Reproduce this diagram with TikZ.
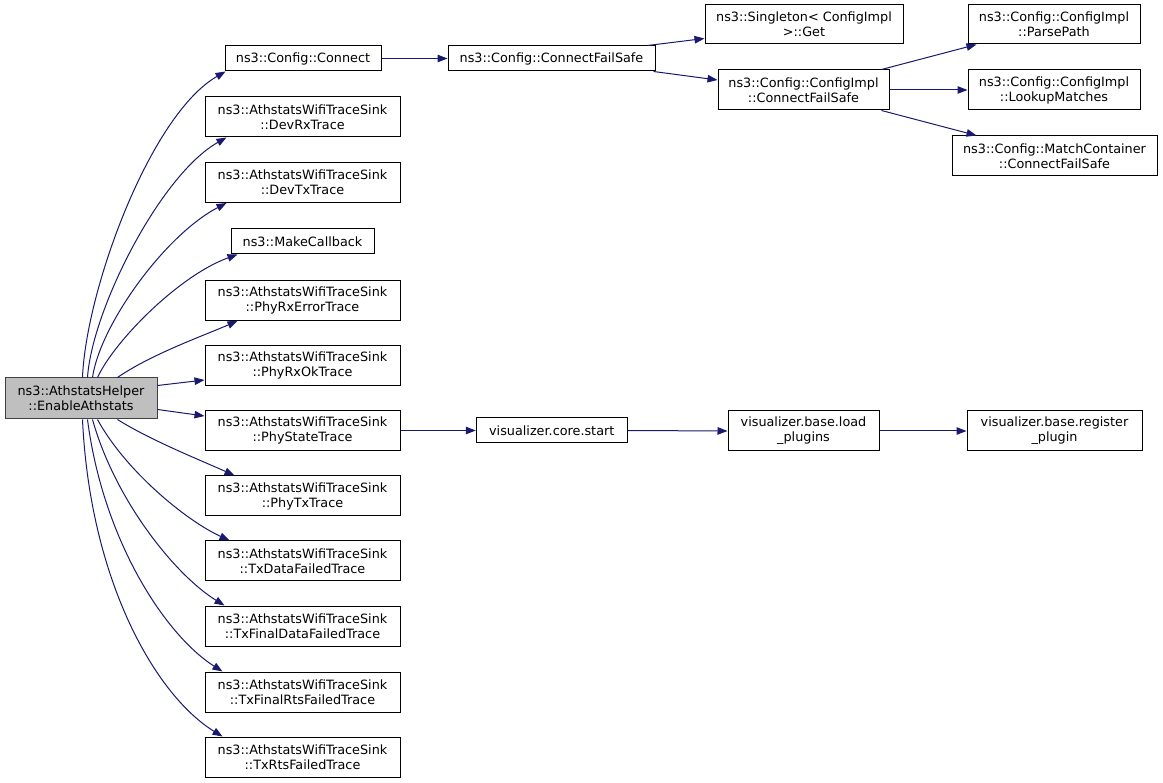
\documentclass[tikz,border=0pt]{standalone}
\usepackage{fontspec}
\setmainfont{DejaVu Sans}
\usetikzlibrary{arrows.meta,calc}
\definecolor{edgeblue}{HTML}{191970}
\definecolor{maingray}{HTML}{BFBFBF}
\tikzset{
  box/.style={draw=black, line width=1pt, rectangle, inner sep=0pt, align=center,
    font=\fontsize{12.8}{15}\selectfont, fill=white},
  mainbox/.style={box, fill=maingray, draw=black!75},
  edge/.style={draw=edgeblue, line width=1pt, -{Triangle[length=10pt,width=7.5pt]}}
}
\begin{document}
\begin{tikzpicture}[x=1pt,y=-1pt]
\useasboundingbox (0,0) rectangle (1163,783);
% nodes
\node[mainbox, minimum width=152pt, minimum height=41pt] (main) at (81,398.5) {ns3::AthstatsHelper\\::EnableAthstats};
\node[box, minimum width=156pt, minimum height=25pt] (conn) at (303,58.5) {ns3::Config::Connect};
\node[box, minimum width=195pt, minimum height=40pt] (devrx) at (302.5,117) {ns3::AthstatsWifiTraceSink\\::DevRxTrace};
\node[box, minimum width=195pt, minimum height=40pt] (devtx) at (302.5,182.5) {ns3::AthstatsWifiTraceSink\\::DevTxTrace};
\node[box, minimum width=143pt, minimum height=25pt] (mkcb) at (302.5,241.5) {ns3::MakeCallback};
\node[box, minimum width=195pt, minimum height=40pt] (rxerr) at (302.5,300.5) {ns3::AthstatsWifiTraceSink\\::PhyRxErrorTrace};
\node[box, minimum width=195pt, minimum height=40pt] (rxok) at (302.5,365.5) {ns3::AthstatsWifiTraceSink\\::PhyRxOkTrace};
\node[box, minimum width=195pt, minimum height=40pt] (state) at (302.5,430.5) {ns3::AthstatsWifiTraceSink\\::PhyStateTrace};
\node[box, minimum width=195pt, minimum height=40pt] (phytx) at (302.5,496) {ns3::AthstatsWifiTraceSink\\::PhyTxTrace};
\node[box, minimum width=195pt, minimum height=40pt] (txdf) at (302.5,561) {ns3::AthstatsWifiTraceSink\\::TxDataFailedTrace};
\node[box, minimum width=195pt, minimum height=40pt] (txfdf) at (302.5,626) {ns3::AthstatsWifiTraceSink\\::TxFinalDataFailedTrace};
\node[box, minimum width=195pt, minimum height=40pt] (txfrf) at (302.5,692) {ns3::AthstatsWifiTraceSink\\::TxFinalRtsFailedTrace};
\node[box, minimum width=195pt, minimum height=40pt] (txrf) at (302.5,757) {ns3::AthstatsWifiTraceSink\\::TxRtsFailedTrace};
\node[box, minimum width=207pt, minimum height=25pt] (cfs) at (551.5,58.5) {ns3::Config::ConnectFailSafe};
\node[box, minimum width=198pt, minimum height=39pt] (single) at (804,24.5) {ns3::Singleton< ConfigImpl\\>::Get};
\node[box, minimum width=171pt, minimum height=40pt] (icfs) at (803.5,90) {ns3::Config::ConfigImpl\\::ConnectFailSafe};
\node[box, minimum width=172pt, minimum height=39pt] (parse) at (1054,24.5) {ns3::Config::ConfigImpl\\::ParsePath};
\node[box, minimum width=172pt, minimum height=40pt] (lookup) at (1054,90) {ns3::Config::ConfigImpl\\::LookupMatches};
\node[box, minimum width=205pt, minimum height=40pt] (mcont) at (1054.5,156) {ns3::Config::MatchContainer\\::ConnectFailSafe};
\node[box, minimum width=151pt, minimum height=25pt] (vstart) at (551.75,430.5) {visualizer.core.start};
\node[box, minimum width=151pt, minimum height=40pt] (vload) at (803.5,431) {visualizer.base.load\\\_plugins};
\node[box, minimum width=175pt, minimum height=40pt] (vreg) at (1054.5,431) {visualizer.base.register\\\_plugin};
% edges from main upward
\draw[edge] ($(main.north west)+(78,0)$) .. controls (86,290) and (150,115) .. ($(conn.south west)+(1,0)$);
\draw[edge] ($(main.north west)+(83,0)$) .. controls (92,310) and (160,175) .. ($(devrx.south west)+(22,0)$);
\draw[edge] ($(main.north west)+(88,0)$) .. controls (100,325) and (165,235) .. ($(devtx.south west)+(22,0)$);
\draw[edge] ($(main.north west)+(93,0)$) .. controls (115,340) and (180,275) .. ($(mkcb.south west)+(7,0)$);
\draw[edge] ($(main.north west)+(113,0)$) .. controls (150,355) and (200,337) .. ($(rxerr.south west)+(33,0)$);
\draw[edge] ($(main.east)+(0,-13)$) -- ($(rxok.south west)+(0,-6)$);
\draw[edge] ($(main.east)+(0,11)$) -- ($(state.north west)+(0,6)$);
% edges from main downward
\draw[edge] ($(main.south west)+(113,0)$) .. controls (150,440) and (200,460) .. ($(phytx.north west)+(30,0)$);
\draw[edge] ($(main.south west)+(93,0)$) .. controls (125,470) and (185,520) .. ($(txdf.north west)+(25,0)$);
\draw[edge] ($(main.south west)+(88,0)$) .. controls (115,500) and (175,575) .. ($(txfdf.north west)+(20,0)$);
\draw[edge] ($(main.south west)+(83,0)$) .. controls (103,540) and (165,635) .. ($(txfrf.north west)+(18,0)$);
\draw[edge] ($(main.south west)+(78,0)$) .. controls (90,580) and (155,695) .. ($(txrf.north west)+(18,0)$);
% right part
\draw[edge] (conn.east) -- (cfs.west);
\draw[edge] ($(cfs.north east)+(-8,0)$) -- ($(single.south west)+(0,-6)$);
\draw[edge] ($(cfs.south east)+(-2,0)$) -- ($(icfs.west)+(0,-10)$);
\draw[edge] ($(icfs.north east)+(-8,0)$) -- ($(parse.south west)+(9,0)$);
\draw[edge] (icfs.east) -- (lookup.west);
\draw[edge] ($(icfs.south east)+(-8,0)$) -- ($(mcont.north west)+(25,0)$);
\draw[edge] (state.east) -- (vstart.west);
\draw[edge] (vstart.east) -- (vload.west);
\draw[edge] (vload.east) -- (vreg.west);
\end{tikzpicture}
\end{document}
